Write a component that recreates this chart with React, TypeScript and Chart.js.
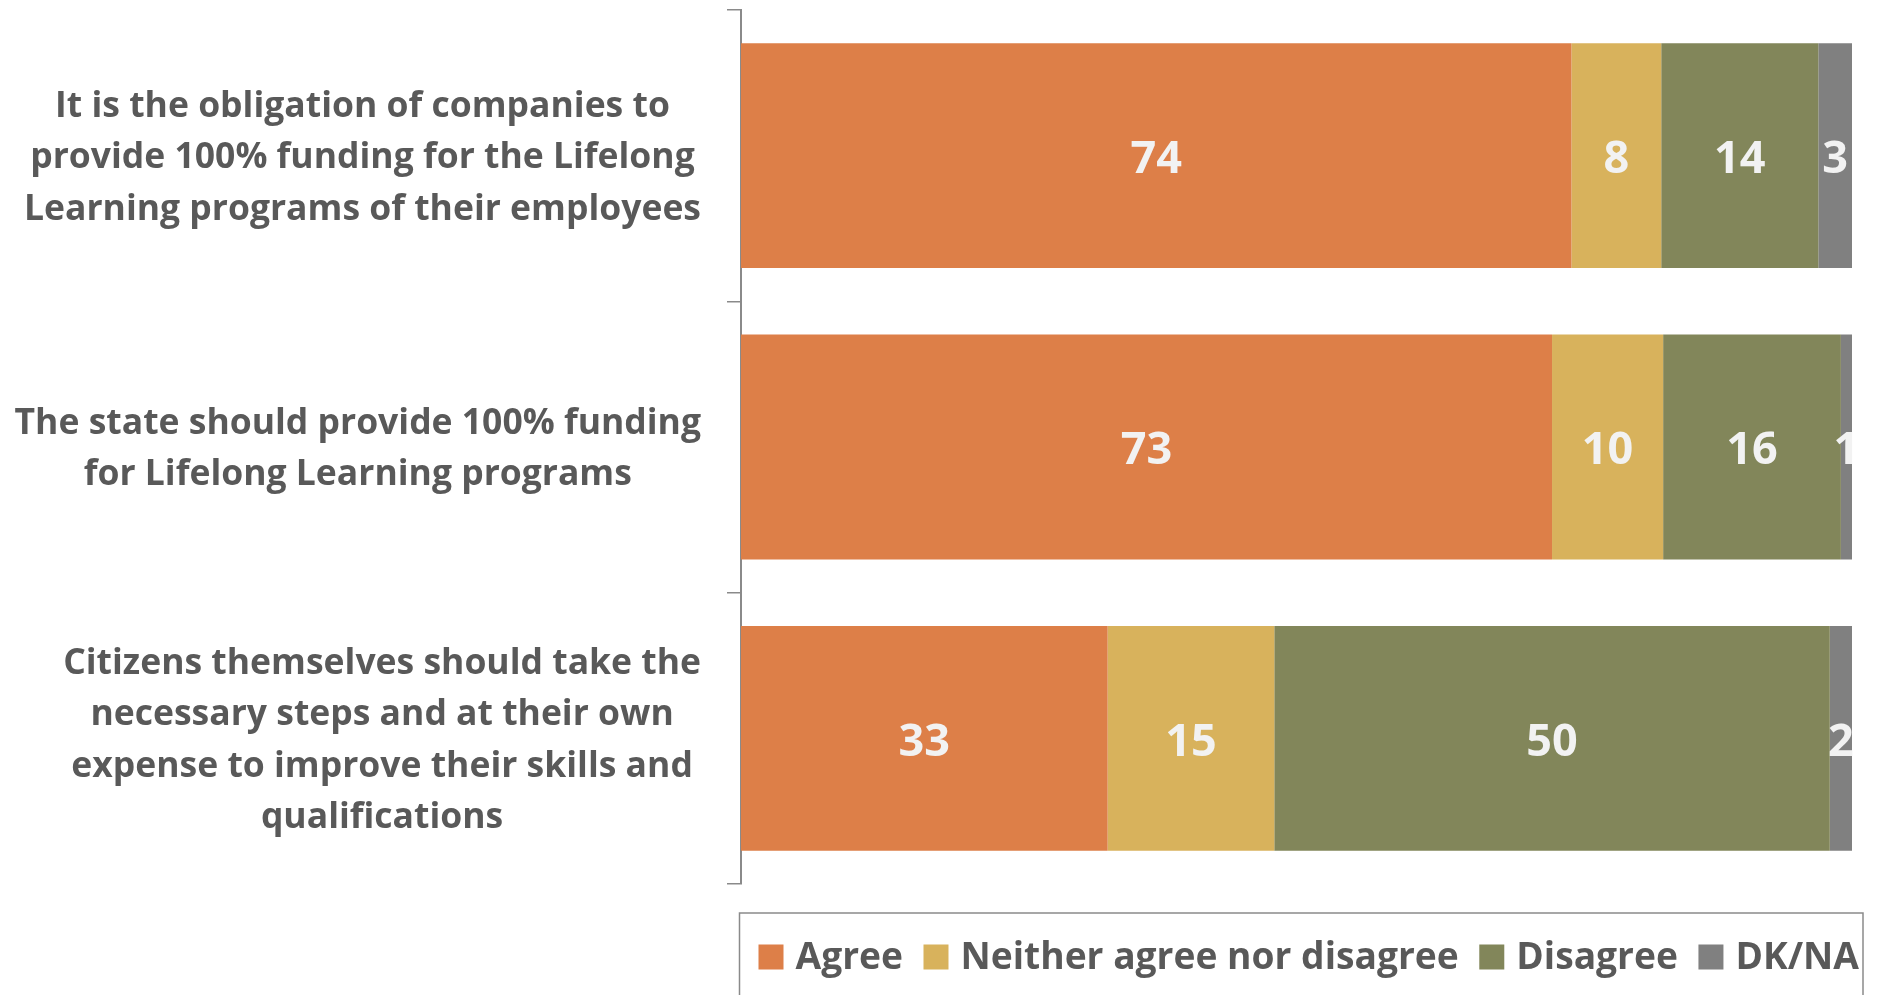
import React, { useEffect, useRef } from "react";
import { Chart, registerables } from "chart.js";

Chart.register(...registerables);

// ---- Data ----
const categories: string[][] = [
  ["It is the obligation of companies to", "provide 100% funding for the Lifelong", "Learning programs of their employees"],
  ["The state should provide 100% funding", "for Lifelong Learning programs"],
  ["Citizens themselves should take the", "necessary steps and at their own", "expense to improve their skills and", "qualifications"],
];
const seriesNames = ["Agree", "Neither agree nor disagree", "Disagree", "DK/NA"];
const agree = [74, 73, 33];
const neither = [8, 10, 15];
const disagree = [14, 16, 50];
const dkna = [3, 1, 2];
const seriesColors = ["#DD7F48", "#D8B25C", "#82865A", "#808080"];

const FONT = "'Open Sans'";
const TEXT_GRAY = "#595959";
const AXIS_GRAY = "#8a8a8a";

const seriesValues = [agree, neither, disagree, dkna];
const rowTotals = categories.map((_, i) => seriesValues.reduce((s, arr) => s + arr[i], 0));

const categoryLabelPlugin = {
  id: "categoryLabels",
  afterDraw(chart: any) {
    const ctx = chart.ctx as CanvasRenderingContext2D;
    const yScale = chart.scales.y;
    const right = chart.chartArea.left - 40;
    const lineH = 51.5;
    ctx.save();
    ctx.font = `bold 35.5px ${FONT}`;
    ctx.fillStyle = TEXT_GRAY;
    ctx.textAlign = "center";
    ctx.textBaseline = "middle";
    (chart.data.labels as string[][]).forEach((lines, i) => {
      const w = Math.max(...lines.map((l) => ctx.measureText(l).width));
      const cx = right - w / 2;
      const cy = yScale.getPixelForValue(i) + 2.5;
      lines.forEach((l, j) => {
        ctx.fillText(l, cx, cy + (j - (lines.length - 1) / 2) * lineH);
      });
    });
    ctx.restore();
  },
};

const dataLabelPlugin = {
  id: "dataLabels",
  afterDatasetsDraw(chart: any) {
    const ctx = chart.ctx as CanvasRenderingContext2D;
    ctx.save();
    ctx.font = `bold 45px ${FONT}`;
    ctx.fillStyle = "#F2F2F2";
    ctx.textAlign = "center";
    ctx.textBaseline = "middle";
    chart.data.datasets.forEach((ds: any, di: number) => {
      const meta = chart.getDatasetMeta(di);
      meta.data.forEach((el: any, i: number) => {
        const p = el.getCenterPoint();
        ctx.fillText(String(ds.rawValues[i]), p.x, p.y + 4.5);
      });
    });
    ctx.restore();
  },
};

const boxedLegendPlugin = {
  id: "boxedLegend",
  afterDraw(chart: any) {
    const ctx = chart.ctx as CanvasRenderingContext2D;
    const area = chart.chartArea;
    const left = area.left - 1.5;
    const top = area.top + area.height + 29;
    const right = area.right + 11;
    ctx.save();
    ctx.strokeStyle = AXIS_GRAY;
    ctx.lineWidth = 1.5;
    ctx.strokeRect(left, top, right - left, 300);
    ctx.font = `bold 37.2px ${FONT}`;
    ctx.textAlign = "left";
    ctx.textBaseline = "middle";
    let x = left + 19;
    const cy = top + 44;
    chart.data.datasets.forEach((ds: any) => {
      ctx.fillStyle = ds.backgroundColor;
      ctx.fillRect(x, cy - 12.5, 25, 25);
      x += 37;
      ctx.fillStyle = TEXT_GRAY;
      ctx.fillText(ds.label, x, cy + 1.5);
      x += ctx.measureText(ds.label).width + 20.5;
    });
    ctx.restore();
  },
};

export default function App() {
  const canvasRef = useRef<HTMLCanvasElement | null>(null);

  useEffect(() => {
    if (!canvasRef.current) return;
    const datasets = seriesValues.map((vals, si) => ({
      label: seriesNames[si],
      data: vals.map((v, i) => (v / rowTotals[i]) * 100),
      rawValues: vals,
      backgroundColor: seriesColors[si],
      borderWidth: 0,
      barPercentage: 0.772,
      categoryPercentage: 1,
    }));
    const chart = new Chart(canvasRef.current, {
      type: "bar",
      data: { labels: categories, datasets: datasets as any },
      options: {
        indexAxis: "y",
        responsive: false,
        animation: false,
        layout: { padding: { left: 0, right: 26, top: 10, bottom: 111 } },
        plugins: {
          legend: { display: false },
          tooltip: { enabled: false },
        },
        scales: {
          x: { type: "linear", stacked: true, min: 0, max: 100, display: false },
          y: {
            type: "category",
            stacked: true,
            offset: true,
            afterFit: (scale: any) => {
              scale.width = 741;
            },
            ticks: { display: false },
            grid: {
              offset: true,
              drawOnChartArea: false,
              drawTicks: true,
              tickLength: 14,
              color: AXIS_GRAY,
              lineWidth: 1.5,
            },
            border: { display: true, color: AXIS_GRAY, width: 2 },
          },
        },
      } as any,
      plugins: [categoryLabelPlugin, dataLabelPlugin, boxedLegendPlugin],
    });
    return () => chart.destroy();
  }, []);

  return (
    <div style={{ position: "fixed", left: 0, top: 0, width: 1878, height: 995, background: "#fff" }}>
      <canvas ref={canvasRef} width={1878} height={995} style={{ display: "block" }} />
    </div>
  );
}
